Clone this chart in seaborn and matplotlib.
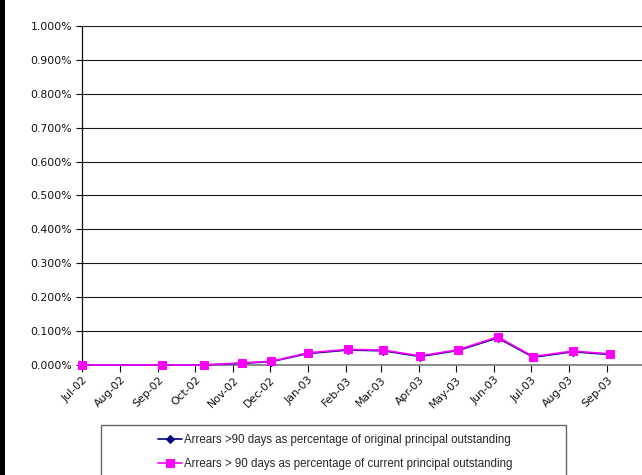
import matplotlib
matplotlib.use("Agg")
import matplotlib.pyplot as plt
import matplotlib.dates as mdates
from matplotlib.patches import Rectangle
from matplotlib.ticker import FuncFormatter, MultipleLocator, FixedLocator
import seaborn as sns
import pandas as pd

# Reporting dates and arrears ratios (in percent)
dates = ["2002-07-01", "2002-09-04", "2002-10-08", "2002-11-08", "2002-12-02",
         "2003-01-01", "2003-02-02", "2003-03-03", "2003-04-02", "2003-05-03",
         "2003-06-04", "2003-07-03", "2003-08-04", "2003-09-03"]
pct_original = [0.000, 0.000, 0.000, 0.005, 0.010, 0.034, 0.044, 0.042,
                0.025, 0.043, 0.080, 0.023, 0.039, 0.031]
pct_current = [0.000, 0.000, 0.000, 0.006, 0.011, 0.036, 0.046, 0.044,
               0.027, 0.045, 0.083, 0.025, 0.041, 0.033]
month_ticks = pd.date_range("2002-07-01", "2003-09-01", freq="MS")
label_original = "Arrears >90 days as percentage of original principal outstanding"
label_current = "Arrears > 90 days as percentage of current principal outstanding"

df = pd.DataFrame({"date": pd.to_datetime(dates),
                   "orig": pct_original,
                   "curr": pct_current})

sns.set_style("white")
plt.rcParams["font.family"] = ["DejaVu Sans"]

W, H = 642, 475
fig = plt.figure(figsize=(W / 100, H / 100), dpi=100)
ax = fig.add_axes([82 / W, 1 - 365 / H, 562 / W, 339 / H])

sns.lineplot(data=df, x="date", y="orig", ax=ax, color="#000080",
             marker="D", markersize=3.8, markeredgecolor="#000080",
             linewidth=1.2, label=label_original, clip_on=False, zorder=3)
sns.lineplot(data=df, x="date", y="curr", ax=ax, color="#FF00FF",
             marker="s", markersize=5.5, markeredgecolor="#FF00FF",
             linewidth=1.2, label=label_current, clip_on=False, zorder=4)

ax.set_xlim(pd.Timestamp("2002-07-01"), pd.Timestamp("2003-10-01"))
ax.set_ylim(0, 1.0)
ax.yaxis.set_major_locator(MultipleLocator(0.1))
ax.yaxis.set_major_formatter(FuncFormatter(lambda v, p: f"{v:.3f}%"))
ax.xaxis.set_major_locator(FixedLocator(mdates.date2num(month_ticks)))
ax.xaxis.set_major_formatter(mdates.DateFormatter("%b-%y"))
ax.set_xlabel("")
ax.set_ylabel("")

ax.grid(axis="y", color="#1a1a1a", linewidth=0.8)
ax.grid(axis="x", visible=False)
ax.set_axisbelow(True)
for side in ("top", "right"):
    ax.spines[side].set_visible(False)
ax.spines["left"].set_color("#111111")
ax.spines["left"].set_linewidth(0.9)
ax.spines["bottom"].set_color("#777777")
ax.spines["bottom"].set_linewidth(1.2)
ax.tick_params(axis="y", direction="out", length=4, width=0.8, color="#111111",
               left=True, pad=3, labelsize=7.8, labelcolor="#111111")
ax.tick_params(axis="x", direction="out", length=5, width=0.8, color="#111111",
               bottom=True, pad=2, labelsize=7.8, labelcolor="#111111")
for lbl in ax.get_xticklabels():
    lbl.set_rotation(45)
    lbl.set_ha("right")
    lbl.set_rotation_mode("anchor")

# Legend box below the chart
ax.get_legend().remove()
handles, labels = ax.get_legend_handles_labels()
fig.patches.append(Rectangle((101 / W, -0.05), 465 / W, (1 - 425 / H) + 0.05,
                             transform=fig.transFigure, facecolor="white",
                             edgecolor="#666666", linewidth=1.0))
fig.legend(handles, labels, loc="upper left",
           bbox_to_anchor=(153 / W, 1 - 429 / H), frameon=False,
           handlelength=2.1, handletextpad=0.2, labelspacing=1.05,
           prop={"family": "Liberation Sans", "size": 8.3}, borderaxespad=0)

# Dark strip along the left edge
fig.patches.append(Rectangle((0, 0), 5 / W, 1, transform=fig.transFigure,
                             facecolor="black", edgecolor="none"))

fig.savefig("out.png", dpi=100)
